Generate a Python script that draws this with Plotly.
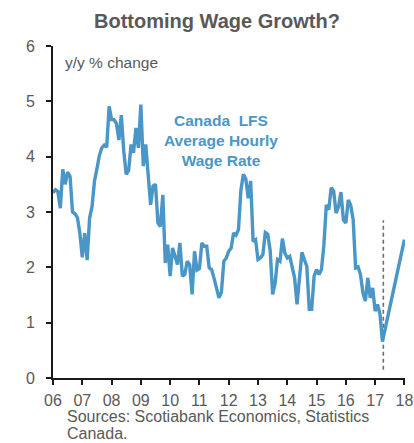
import plotly.graph_objects as go

# Canada LFS average hourly wage rate, y/y % change, monthly Jan 2006 - Apr 2017
start_year = 2006
wage_growth = [
    3.35, 3.40, 3.37, 3.07, 3.77, 3.50, 3.72, 3.64, 3.00, 2.97, 2.90, 2.62,   # 2006
    2.18, 2.62, 2.13, 2.89, 3.10, 3.56, 3.78, 4.02, 4.16, 4.21, 4.17, 4.91,   # 2007
    4.67, 4.67, 4.60, 4.30, 4.75, 4.10, 3.68, 3.75, 4.22, 4.07, 4.52, 4.16,   # 2008
    4.94, 3.83, 4.22, 3.65, 3.13, 3.47, 3.50, 2.80, 2.74, 3.31, 2.08, 2.41,   # 2009
    1.84, 2.35, 2.17, 2.05, 2.44, 1.84, 1.87, 2.11, 2.05, 1.51, 2.29, 1.95,   # 2010
    1.98, 2.44, 2.38, 2.38, 1.99, 1.96, 1.80, 1.60, 1.45, 1.55, 2.11, 2.17,   # 2011
    2.29, 2.35, 2.62, 2.58, 2.68, 3.40, 3.68, 3.60, 3.25, 3.56, 2.47, 2.50,   # 2012
    2.14, 2.17, 2.23, 2.63, 2.60, 2.30, 1.51, 1.71, 2.14, 2.11, 2.52, 2.26,   # 2013
    2.17, 2.20, 1.99, 1.81, 1.33, 1.78, 2.27, 2.14, 2.02, 1.24, 1.24, 1.84,   # 2014
    1.96, 1.87, 1.96, 2.40, 3.13, 3.04, 3.44, 3.38, 2.98, 3.10, 3.36, 2.86,   # 2015
    2.80, 3.22, 3.12, 2.86, 1.99, 2.01, 1.87, 1.54, 1.39, 1.81, 1.45, 1.63,   # 2016
    1.21, 1.33, 1.15, 0.66,                                                   # 2017
]
# rebound path to the start of 2018
rebound_date = 2018.0
rebound_value = 2.50
# latest observation marker (vertical dashed line)
marker_date = 2017.28
marker_range = [0.15, 2.85]

year_ticks = list(range(2006, 2019))
year_labels = ["06", "07", "08", "09", "10", "11", "12", "13", "14", "15", "16", "17", "18"]
source_lines = ["Sources: Scotiabank Economics, Statistics", "Canada."]

dates = [start_year + i / 12 for i in range(len(wage_growth))]
dates.append(rebound_date)
values = wage_growth + [rebound_value]

FONT = "Liberation Sans, Arial, sans-serif"
BLUE = "#4A96C6"
GREY = "#595959"

fig = go.Figure()
fig.add_trace(go.Scatter(
    x=[marker_date, marker_date], y=marker_range, mode="lines",
    line=dict(color="#6E6E6E", width=1.6, dash="4px,3px"),
    hoverinfo="skip", showlegend=False,
))
fig.add_trace(go.Scatter(
    x=dates, y=values, mode="lines",
    line=dict(color=BLUE, width=3.4),
    showlegend=False,
))

# source note: one annotation per line for tighter leading
source_annotations = [
    dict(
        text=line, xref="paper", yref="paper",
        x=(65 - 53) / 351, y=-(416 + 18 * i - 378) / 332,
        xanchor="left", yanchor="middle", align="left",
        showarrow=False, font=dict(family=FONT, size=16, color=GREY),
    )
    for i, line in enumerate(source_lines)
]

fig.update_layout(
    width=414, height=443,
    margin=dict(l=53, r=9, t=46, b=65, autoexpand=False),
    paper_bgcolor="white", plot_bgcolor="white",
    font=dict(family=FONT, color=GREY, size=16),
    title=dict(
        text="<b>Bottoming Wage Growth?</b>",
        x=217 / 414, xanchor="center", y=1 - 20.5 / 443, yanchor="middle",
        font=dict(family=FONT, size=20, color="#595959"),
    ),
    xaxis=dict(
        range=[2006, 2018.02], tickvals=year_ticks, ticktext=year_labels,
        showgrid=False, zeroline=False, automargin=False,
        showline=True, linecolor="#1A1A1A", linewidth=2,
        ticks="outside", ticklen=5, tickwidth=1.5, tickcolor="#1A1A1A",
        ticklabelstandoff=2,
        tickfont=dict(family=FONT, size=16, color=GREY),
    ),
    yaxis=dict(
        range=[0, 6], tickvals=[0, 1, 2, 3, 4, 5, 6],
        showgrid=False, zeroline=False, automargin=False,
        showline=True, linecolor="#1A1A1A", linewidth=2,
        ticks="outside", ticklen=5, tickwidth=1.5, tickcolor="#1A1A1A",
        ticklabelstandoff=8,
        tickfont=dict(family=FONT, size=16, color=GREY),
    ),
    annotations=[
        dict(
            text="y/y % change", xref="paper", yref="paper",
            x=10 / 351, y=1 - 17 / 332, xanchor="left", yanchor="middle",
            showarrow=False, font=dict(family=FONT, size=15.5, color=GREY),
        ),
        dict(
            text="<b>Canada  LFS<br>Average Hourly<br>Wage Rate</b>",
            xref="paper", yref="paper",
            x=(221 - 53) / 351, y=1 - (140 - 46) / 332,
            xanchor="center", yanchor="middle", align="center",
            showarrow=False,
            font=dict(family=FONT, size=15.5, color=BLUE),
        ),
    ] + source_annotations,
)

fig.write_html("out.html")
